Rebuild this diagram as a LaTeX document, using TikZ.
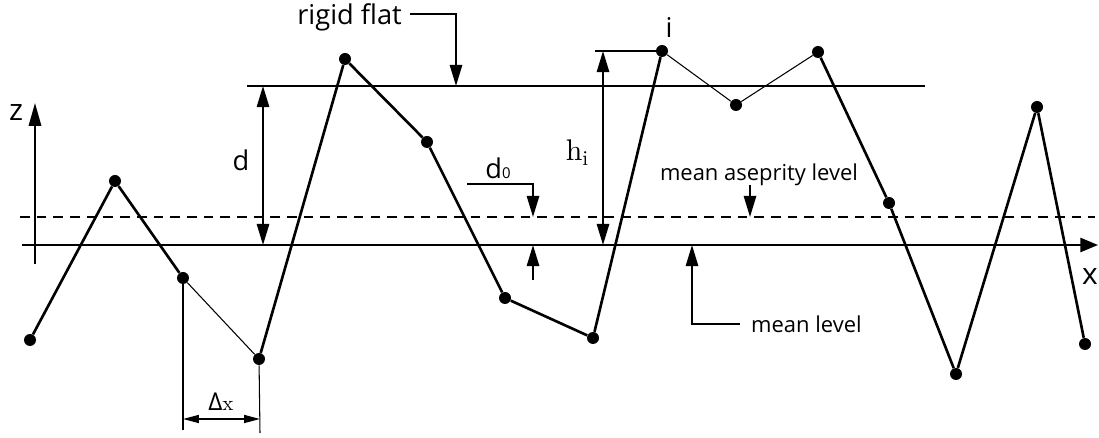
\documentclass[tikz,border=0pt]{standalone}
\usepackage{fontspec}
\setmainfont{Open Sans}
\newfontfamily\lmr[Extension=.otf]{lmroman10-regular}
\usetikzlibrary{arrows.meta}
\begin{document}
\begin{tikzpicture}[x=0.02cm,y=-0.02cm,
  dot/.style={circle,fill=black,inner sep=0pt,minimum size=0.24cm},
  prof/.style={line width=1.5pt},
  fine/.style={line width=0.6pt},
  axis/.style={line width=1.2pt},
  ann/.style={line width=1.1pt,-{Triangle[length=12pt,width=7pt]}},
  dim/.style={line width=1.1pt,{Triangle[length=12pt,width=7pt]}-{Triangle[length=12pt,width=7pt]}},
  big/.style={font=\fontsize{15.5}{17}\selectfont},
  small/.style={font=\fontsize{12.5}{14}\selectfont}]
  \useasboundingbox (0,0) rectangle (1099,438);
  % profile points
  \node[dot] (p1) at (30,340) {};
  \node[dot] (p2) at (115,181) {};
  \node[dot] (p3) at (183,278) {};
  \node[dot] (p4) at (259,359) {};
  \node[dot] (p5) at (345,59) {};
  \node[dot] (p6) at (427,142) {};
  \node[dot] (p7) at (505,298) {};
  \node[dot] (p8) at (593,338) {};
  \node[dot] (p9) at (662,51) {};
  \node[dot] (p10) at (736,105) {};
  \node[dot] (p11) at (818,52) {};
  \node[dot] (p12) at (889,203) {};
  \node[dot] (p13) at (956,374) {};
  \node[dot] (p14) at (1037,107) {};
  \node[dot] (p15) at (1085,344) {};
  \draw[prof] (p1) -- (p2) -- (p3);
  \draw[fine] (p3) -- (p4);
  \draw[prof] (p4) -- (p5) -- (p6) -- (p7) -- (p8) -- (p9);
  \draw[fine] (p9) -- (p10) -- (p11);
  \draw[prof] (p11) -- (p12) -- (p13) -- (p14) -- (p15);
  % levels
  \coordinate (xa0) at (22,245);
  \coordinate (xa1) at (1098,245);
  \draw[axis,-{Triangle[length=10pt,width=8pt]}] (xa0) -- (xa1);
  \coordinate (za0) at (35,264);
  \coordinate (za1) at (35,103);
  \draw[axis,-{Triangle[length=13pt,width=7pt]}] (za0) -- (za1);
  \coordinate (ma0) at (20,217);
  \coordinate (ma1) at (1095,217);
  \draw[axis,dash pattern=on 5.5pt off 4pt] (ma0) -- (ma1);
  \coordinate (rf0) at (247,86);
  \coordinate (rf1) at (925,86);
  \draw[axis] (rf0) -- (rf1);
  \node[font=\fontsize{17}{19}\selectfont] (zl) at (16,113) {z};
  \node[font=\fontsize{17}{19}\selectfont] (xl) at (1090,277) {x};
  % d
  \coordinate (db) at (263,245);
  \coordinate (dt) at (263,86);
  \draw[dim] (db) -- (dt);
  \node[big] (dl) at (241,160) {d};
  % rigid flat
  \node[big,anchor=east] (rfl) at (408,17) {rigid flat};
  \coordinate (rfs) at (410,14);
  \coordinate (rftip) at (456,86);
  \draw[ann] (rfs) -| (rftip);
  % d0
  \node[big] (dzl) at (498,168) {d\raisebox{0pt}{\fontsize{8.5}{9}\selectfont 0}};
  \coordinate (dzs) at (467,184);
  \coordinate (dztip) at (533,217);
  \draw[ann] (dzs) -| (dztip);
  \coordinate (dzb) at (533,280);
  \coordinate (dzbtip) at (533,245);
  \draw[ann] (dzb) -- (dzbtip);
  % h_i
  \coordinate (hb) at (603,245);
  \coordinate (ht) at (603,51);
  \draw[dim] (hb) -- (ht);
  \coordinate (hl) at (595,51);
  \draw[axis] (hl) -- (p9);
  \node[font=\fontsize{17}{19}\selectfont\lmr] (hil) at (577,153) {h\raisebox{-3pt}{\fontsize{12}{13}\selectfont i}};
  \node[big] (il) at (669,28) {i};
  % mean asperity level
  \node[small] (mal) at (759,175) {mean aseprity level};
  \coordinate (mas) at (750,185);
  \coordinate (matip) at (750,217);
  \draw[ann] (mas) -- (matip);
  % mean level
  \coordinate (mls) at (740,324);
  \coordinate (mltip) at (692,245);
  \draw[ann] (mls) -| (mltip);
  \node[small,anchor=west] (mll) at (745,324) {mean level};
  % delta x
  \coordinate (dxa) at (183,430);
  \coordinate (dxb) at (260,433);
  \draw[fine] (p3) -- (dxa);
  \draw[fine] (p4) -- (dxb);
  \coordinate (dxl) at (183,419);
  \coordinate (dxr) at (260,419);
  \draw[line width=0.9pt,{Triangle[length=9pt,width=4.5pt]}-{Triangle[length=9pt,width=4.5pt]}] (dxl) -- (dxr);
  \node[font=\fontsize{14}{16}\selectfont] (dxt) at (221,402) {Δ{\lmr\fontsize{12}{13}\selectfont x}};
\end{tikzpicture}
\end{document}
